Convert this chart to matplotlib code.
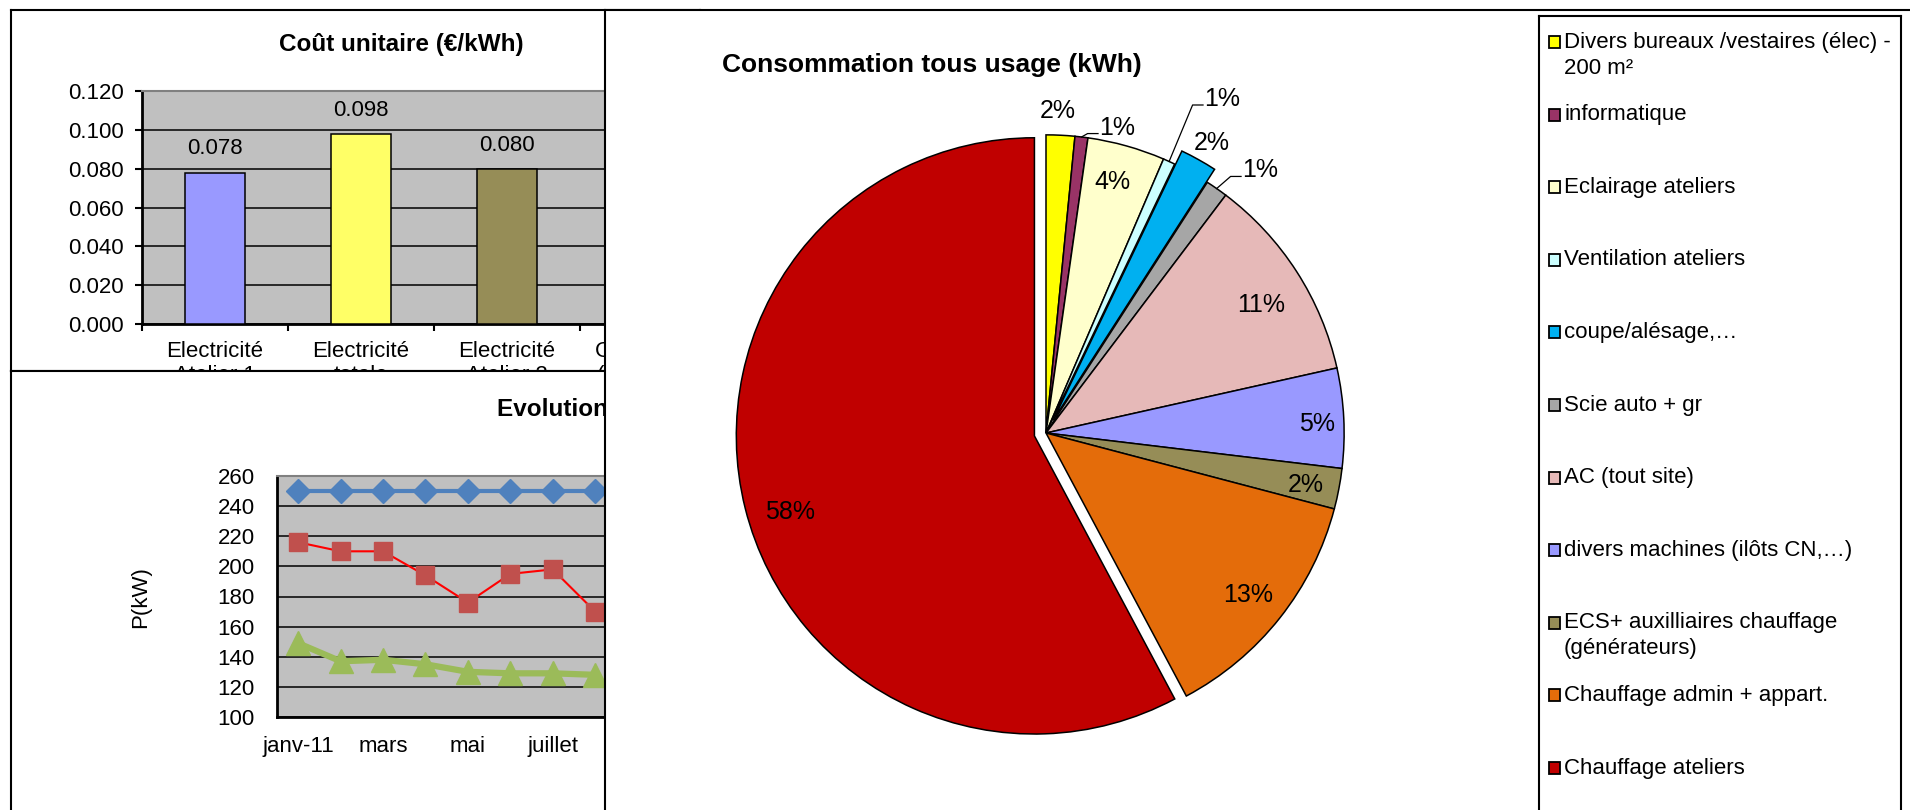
import numpy as np
import matplotlib
matplotlib.use("Agg")
import matplotlib.pyplot as plt
from matplotlib.patches import Rectangle
from matplotlib.ticker import FormatStrFormatter

plt.rcParams['font.family'] = ['Liberation Sans', 'DejaVu Sans']

W, H = 1910, 810

# ---- Coût unitaire (€/kWh)
cout_cat = ["Electricité\nAtelier 1", "Electricité\ntotale", "Electricité\nAtelier 2", "Gaz naturel\n(chauffage)"]
cout_val = [0.078, 0.098, 0.080]
cout_col = ["#9999FF", "#FFFF66", "#968D57"]
cout_ticks = [0.0, 0.02, 0.04, 0.06, 0.08, 0.10, 0.12]

# ---- Evolution des puissances (kW)
mois = ["janv-11", "févr", "mars", "avr", "mai", "juin", "juillet", "août", "sept", "oct", "nov", "déc"]
p_souscrite = [250, 250, 250, 250, 250, 250, 250, 250]
p_max = [216, 210, 210, 194, 176, 195, 198, 170]
p_moy = [149, 137, 138, 135, 130, 129, 129, 128]
p_ticks = [100, 120, 140, 160, 180, 200, 220, 240, 260]

# ---- Consommation tous usage (kWh), part en %
conso_lab = ["Divers bureaux /vestaires (élec) -\n200 m²", "informatique", "Eclairage ateliers",
             "Ventilation ateliers", "coupe/alésage,…", "Scie auto + gr", "AC (tout site)",
             "divers machines (ilôts CN,…)", "ECS+ auxilliaires chauffage\n(générateurs)",
             "Chauffage admin + appart.", "Chauffage ateliers"]
conso_val = [1.55, 0.7, 4.2, 0.65, 2.0, 1.2, 11.2, 5.4, 2.2, 13.1, 57.8]
conso_col = ["#FFFF00", "#993366", "#FFFFCC", "#CCFFFF", "#00B0F0", "#A6A6A6",
             "#E6B9B8", "#9999FF", "#968D57", "#E46C0A", "#C00000"]
conso_explode = [0, 0, 0, 0, 0.05, 0, 0, 0, 0, 0, 0.04]
# label placement (radius, angle shift in degrees), leader lines for small slices
lab_r = [1.08, 1.04, 0.87, 1.24, 1.12, 1.10, 0.84, 0.91, 0.89, 0.87, 0.90]
lab_da = [-0.7, 3.1, -0.8, 1.0, 0.6, 1.9, 2.0, 1.0, 0.5, 0.3, -3.1]
leader = [1, 3, 5]

fig = plt.figure(figsize=(W / 100, H / 100), dpi=100)


def rect(x0, y0, x1, y1):
    return [x0 / W, 1 - y1 / H, (x1 - x0) / W, (y1 - y0) / H]


def panel(x0, y0, x1, y1, z):
    ax = fig.add_axes(rect(x0, y0, x1, y1), zorder=z)
    ax.set_xticks([])
    ax.set_yticks([])
    ax.set_facecolor('white')
    for s in ax.spines.values():
        s.set_linewidth(1.5)
        s.set_color('black')
    return ax


# ---------- bar chart
box1 = panel(11, 10, 700, 371, 0)
box1.text(401 / W, 1 - 45 / H, "Coût unitaire (€/kWh)", transform=fig.transFigure,
          ha='center', va='center', fontsize=17.5, fontweight='bold')

ax1 = fig.add_axes(rect(142, 91, 726, 324), zorder=1)
ax1.set_facecolor('#C0C0C0')
xb = np.arange(len(cout_val))
ax1.bar(xb, cout_val, width=0.41, color=cout_col, edgecolor='black', linewidth=1.1, zorder=3)
for xi, v in zip(xb, cout_val):
    ax1.annotate(f"{v:.3f}", (xi, v), xytext=(0, 17), textcoords='offset points',
                 ha='center', va='center', fontsize=16)
ax1.set_xlim(-0.5, len(cout_cat) - 0.5)
ax1.set_ylim(0, 0.12)
ax1.set_yticks(cout_ticks)
ax1.yaxis.set_major_formatter(FormatStrFormatter('%.3f'))
ax1.grid(axis='y', color='black', lw=1.1)
ax1.set_axisbelow(True)
ax1.set_xticks(np.arange(len(cout_cat) + 1) - 0.5)
ax1.set_xticklabels([])
ax1.set_xticks(np.arange(len(cout_cat)), minor=True)
ax1.set_xticklabels(cout_cat, minor=True, fontsize=16)
ax1.tick_params(axis='x', which='minor', length=0, pad=12)
ax1.tick_params(axis='x', which='major', length=5, width=1.5)
ax1.tick_params(axis='y', length=5, width=1.5, labelsize=16, pad=8)
for s in ['left', 'bottom']:
    ax1.spines[s].set_linewidth(2)
ax1.spines['top'].set_color('#808080')
ax1.spines['top'].set_linewidth(1.5)
ax1.spines['right'].set_visible(False)

# ---------- line chart
box2 = panel(11, 371, 700, 830, 2)
box2.text(497 / W, 1 - 409 / H, "Evolution des puissances (kW)", transform=fig.transFigure,
          ha='left', va='center', fontsize=17.5, fontweight='bold')
box2.text(141 / W, 1 - 597 / H, "P(kW)", transform=fig.transFigure, rotation=90,
          ha='center', va='center', fontsize=16)

ax2 = fig.add_axes(rect(277, 476, 786, 717), zorder=3)
ax2.set_facecolor('#C0C0C0')
ax2.plot(np.arange(len(p_moy)), p_moy, color='#9BBB59', lw=4.5, marker='^', ms=17, zorder=3)
ax2.plot(np.arange(len(p_max)), p_max, color='#FF0000', lw=1.5, marker='s', ms=13.5,
         mfc='#C0504D', mec='#C0504D', zorder=4)
ax2.plot(np.arange(len(p_souscrite)), p_souscrite, color='#4F81BD', lw=3, marker='D', ms=12,
         zorder=5)
ax2.set_xlim(-0.5, len(mois) - 0.5)
ax2.set_ylim(100, 260)
ax2.set_yticks(p_ticks)
ax2.set_xticks(np.arange(0, len(mois), 2))
ax2.set_xticklabels(mois[::2], fontsize=16)
ax2.tick_params(axis='both', length=0, labelsize=16)
ax2.tick_params(axis='y', pad=16)
ax2.tick_params(axis='x', pad=14)
ax2.grid(axis='y', color='black', lw=1.1)
ax2.set_axisbelow(True)
for s in ['left', 'bottom']:
    ax2.spines[s].set_linewidth(2)
ax2.spines['top'].set_color('#808080')
ax2.spines['top'].set_linewidth(1.5)
ax2.spines['right'].set_visible(False)

# ---------- pie chart
box3 = panel(605, 10, 1930, 830, 4)
box3.text(932 / W, 1 - 65 / H, "Consommation tous usage (kWh)", transform=fig.transFigure,
          ha='center', va='center', fontsize=19, fontweight='bold')

cx, cy, half = 1046, 433, 477
ax3 = fig.add_axes(rect(cx - half, cy - half, cx + half, cy + half), zorder=5)
ax3.pie(conso_val, colors=conso_col, startangle=90, counterclock=False, explode=conso_explode,
        wedgeprops=dict(edgecolor='black', linewidth=1.1))
ax3.set_xlim(-1.6, 1.6)
ax3.set_ylim(-1.6, 1.6)
ax3.axis('off')

tot = sum(conso_val)
start = 0
for i, v in enumerate(conso_val):
    mid = (start + v / 2) / tot * 360
    start += v
    txt = f"{v / tot * 100:.0f}%"
    a = np.radians(mid + lab_da[i])
    px, py = lab_r[i] * np.sin(a), lab_r[i] * np.cos(a)
    if i in leader:
        m = np.radians(mid)
        ex, ey = np.sin(m) * (1 + conso_explode[i]), np.cos(m) * (1 + conso_explode[i])
        ax3.plot([ex, px - 0.04, px - 0.005], [ey, py - 0.02, py - 0.02], color='black', lw=0.9)
        ax3.text(px, py, txt, ha='left', va='center', fontsize=18)
    else:
        ax3.text(px, py, txt, ha='center', va='center', fontsize=18)

# ---------- legend
ax4 = panel(1539, 16, 1901, 830, 6)
ax4.set_xlim(1539, 1901)
ax4.set_ylim(830, 16)
for i, (lab, col) in enumerate(zip(conso_lab, conso_col)):
    y = 42 + i * 72.6
    ax4.add_patch(Rectangle((1549, y - 6), 11, 12, facecolor=col, edgecolor='black', lw=1.3))
    for k, line in enumerate(lab.split("\n")):
        ax4.text(1564, y + k * 26, line, ha='left', va='center', fontsize=16)

fig.savefig("out.png", dpi=100)
